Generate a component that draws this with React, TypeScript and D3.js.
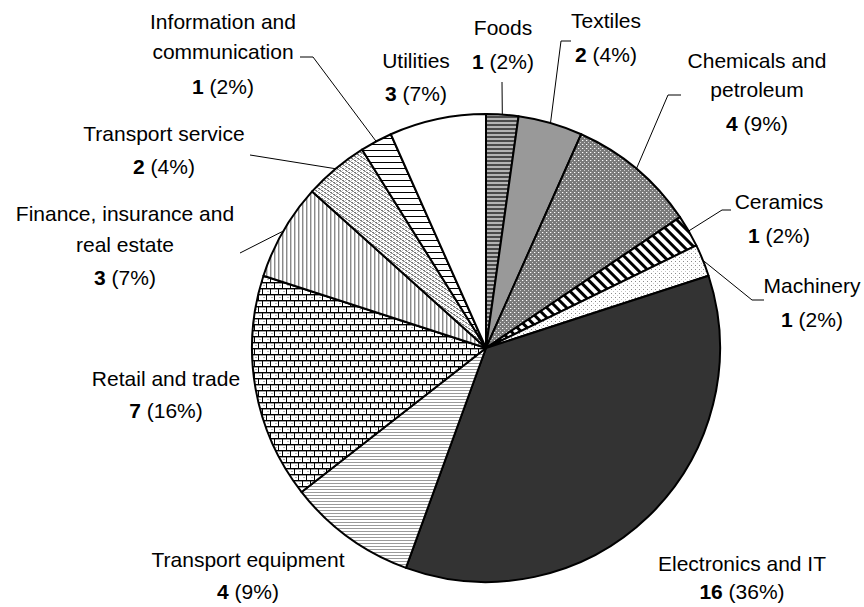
import React from "react";
import * as d3 from "d3";

const categories = [
  "Foods",
  "Textiles",
  "Chemicals and petroleum",
  "Ceramics",
  "Machinery",
  "Electronics and IT",
  "Transport equipment",
  "Retail and trade",
  "Finance, insurance and real estate",
  "Transport service",
  "Information and communication",
  "Utilities",
];
const counts = [1, 2, 4, 1, 1, 16, 4, 7, 3, 2, 1, 3];
const percents = [2, 4, 9, 2, 2, 36, 9, 16, 7, 4, 2, 7];
const labelLines = [
  ["Foods"],
  ["Textiles"],
  ["Chemicals and", "petroleum"],
  ["Ceramics"],
  ["Machinery"],
  ["Electronics and IT"],
  ["Transport equipment"],
  ["Retail and trade"],
  ["Finance, insurance and", "real estate"],
  ["Transport service"],
  ["Information and", "communication"],
  ["Utilities"],
];

const fills = [
  "url(#pFoods)",
  "#999999",
  "url(#pChem)",
  "url(#pCer)",
  "url(#pMach)",
  "#333333",
  "url(#pTeq)",
  "url(#pRetail)",
  "url(#pFin)",
  "url(#pTsv)",
  "url(#pInfo)",
  "#ffffff",
];

// layout: label centre x, line centre ys, leader points (label side first)
const labelLayout: { x: number; ys: number[]; leader: number[][] | null }[] = [
  { x: 503, ys: [29, 63], leader: [[502, 82]] },
  { x: 606, ys: [22, 56], leader: [[571, 41], [561, 41]] },
  { x: 757, ys: [62, 91, 125], leader: [[681, 95], [668, 95]] },
  { x: 779, ys: [203, 237], leader: [[731, 210], [722, 210]] },
  { x: 812, ys: [287, 321], leader: [[764, 300], [752, 300]] },
  { x: 742, ys: [565, 593], leader: null },
  { x: 248, ys: [561, 593], leader: null },
  { x: 166, ys: [380, 412], leader: null },
  { x: 125, ys: [215, 246, 279], leader: [[240, 253]] },
  { x: 164, ys: [135, 168], leader: [[250, 155]] },
  { x: 223, ys: [23, 53, 88], leader: [[300, 57], [313, 57]] },
  { x: 416, ys: [62, 95], leader: null },
];

const W = 864;
const H = 607;
const cx = 486;
const cy = 348;
const R = 234;
const FONT = "'Liberation Sans', Arial, sans-serif";
const FS = 21;

export default function App() {
  const pie = d3
    .pie<number>()
    .sort(null)
    .value((d) => d)
    .startAngle(0)
    .endAngle(2 * Math.PI);
  const arcs = pie(counts);
  const arc = d3.arc<d3.PieArcDatum<number>>().innerRadius(0).outerRadius(R);

  return (
    <svg
      width={W}
      height={H}
      style={{ position: "absolute", left: 0, top: 0, background: "#fff" }}
      fontFamily={FONT}
    >
      <defs>
        <pattern id="pFoods" width="4" height="4" patternUnits="userSpaceOnUse">
          <rect width="4" height="4" fill="#b4b4b4" />
          <rect width="4" height="2" fill="#4a4a4a" />
        </pattern>
        <pattern id="pChem" width="4" height="4" patternUnits="userSpaceOnUse">
          <rect width="4" height="4" fill="#7a7a7a" />
          <rect x="0" y="0" width="1" height="1" fill="#ffffff" />
          <rect x="2" y="2" width="1" height="1" fill="#d0d0d0" />
          <rect x="1" y="0" width="1" height="1" fill="#a0a0a0" />
        </pattern>
        <pattern
          id="pCer"
          width="7"
          height="7"
          patternUnits="userSpaceOnUse"
          patternTransform="rotate(-45)"
        >
          <rect width="7" height="7" fill="#fff" />
          <rect width="3" height="7" fill="#000" />
        </pattern>
        <pattern id="pMach" width="4" height="4" patternUnits="userSpaceOnUse">
          <rect width="4" height="4" fill="#fff" />
          <rect x="1" y="1" width="1" height="1" fill="#8a8a8a" />
          <rect x="3" y="3" width="1" height="1" fill="#c4c4c4" />
        </pattern>
        <pattern id="pTeq" width="3" height="3" patternUnits="userSpaceOnUse">
          <rect width="3" height="3" fill="#fff" />
          <rect width="3" height="1" fill="#9a9a9a" />
        </pattern>
        <pattern id="pRetail" width="8" height="12" patternUnits="userSpaceOnUse">
          <rect width="8" height="12" fill="#fff" />
          <rect x="0" y="0" width="8" height="1" fill="#000" />
          <rect x="0" y="1" width="8" height="1" fill="#9a9a9a" />
          <rect x="0" y="0" width="1" height="6" fill="#000" />
          <rect x="0" y="6" width="8" height="1" fill="#000" />
          <rect x="0" y="7" width="8" height="1" fill="#9a9a9a" />
          <rect x="4" y="6" width="1" height="6" fill="#000" />
          <rect x="5" y="3" width="2" height="1" fill="#bbbbbb" />
          <rect x="1" y="9" width="2" height="1" fill="#bbbbbb" />
        </pattern>
        <pattern id="pFin" width="4" height="4" patternUnits="userSpaceOnUse">
          <rect width="4" height="4" fill="#fff" />
          <rect x="0" width="1" height="4" fill="#8a8a8a" />
          <rect x="1" width="1" height="4" fill="#cccccc" />
        </pattern>
        <pattern id="pTsv" width="6" height="4" patternUnits="userSpaceOnUse">
          <rect width="6" height="4" fill="#fff" />
          <rect x="0" y="0" width="2" height="1" fill="#777" />
          <rect x="1" y="1" width="2" height="1" fill="#999" />
          <rect x="3" y="2" width="2" height="1" fill="#777" />
          <rect x="4" y="3" width="2" height="1" fill="#999" />
          <rect x="3" y="0" width="1" height="1" fill="#bbb" />
          <rect x="0" y="2" width="1" height="1" fill="#bbb" />
        </pattern>
        <pattern id="pInfo" width="6" height="6" patternUnits="userSpaceOnUse">
          <rect width="6" height="6" fill="#fff" />
          <rect width="6" height="1" fill="#000" />
        </pattern>
      </defs>

      <g transform={`translate(${cx},${cy})`}>
        {arcs.map((a, i) => (
          <path
            key={categories[i]}
            d={arc(a) || ""}
            fill={fills[i]}
            stroke="#000"
            strokeWidth={2}
            strokeLinejoin="round"
          />
        ))}
      </g>

      {arcs.map((a, i) => {
        const L = labelLayout[i];
        if (!L.leader) return null;
        const mid = (a.startAngle + a.endAngle) / 2;
        const ex = cx + R * Math.sin(mid);
        const ey = cy - R * Math.cos(mid);
        const pts = [...L.leader, [ex, ey]];
        const line = d3.line()(pts as [number, number][]);
        return (
          <path
            key={"l" + i}
            d={line || ""}
            fill="none"
            stroke="#000"
            strokeWidth={1}
          />
        );
      })}

      {labelLayout.map((L, i) => {
        const lines = labelLines[i];
        return (
          <g key={"t" + i} fontSize={FS} fill="#000" textAnchor="middle">
            {lines.map((ln, j) => (
              <text key={j} x={L.x} y={L.ys[j]} dominantBaseline="middle">
                {ln}
              </text>
            ))}
            <text x={L.x} y={L.ys[lines.length]} dominantBaseline="middle">
              <tspan fontWeight="bold">{counts[i]}</tspan>
              <tspan>{` (${percents[i]}%)`}</tspan>
            </text>
          </g>
        );
      })}
    </svg>
  );
}
